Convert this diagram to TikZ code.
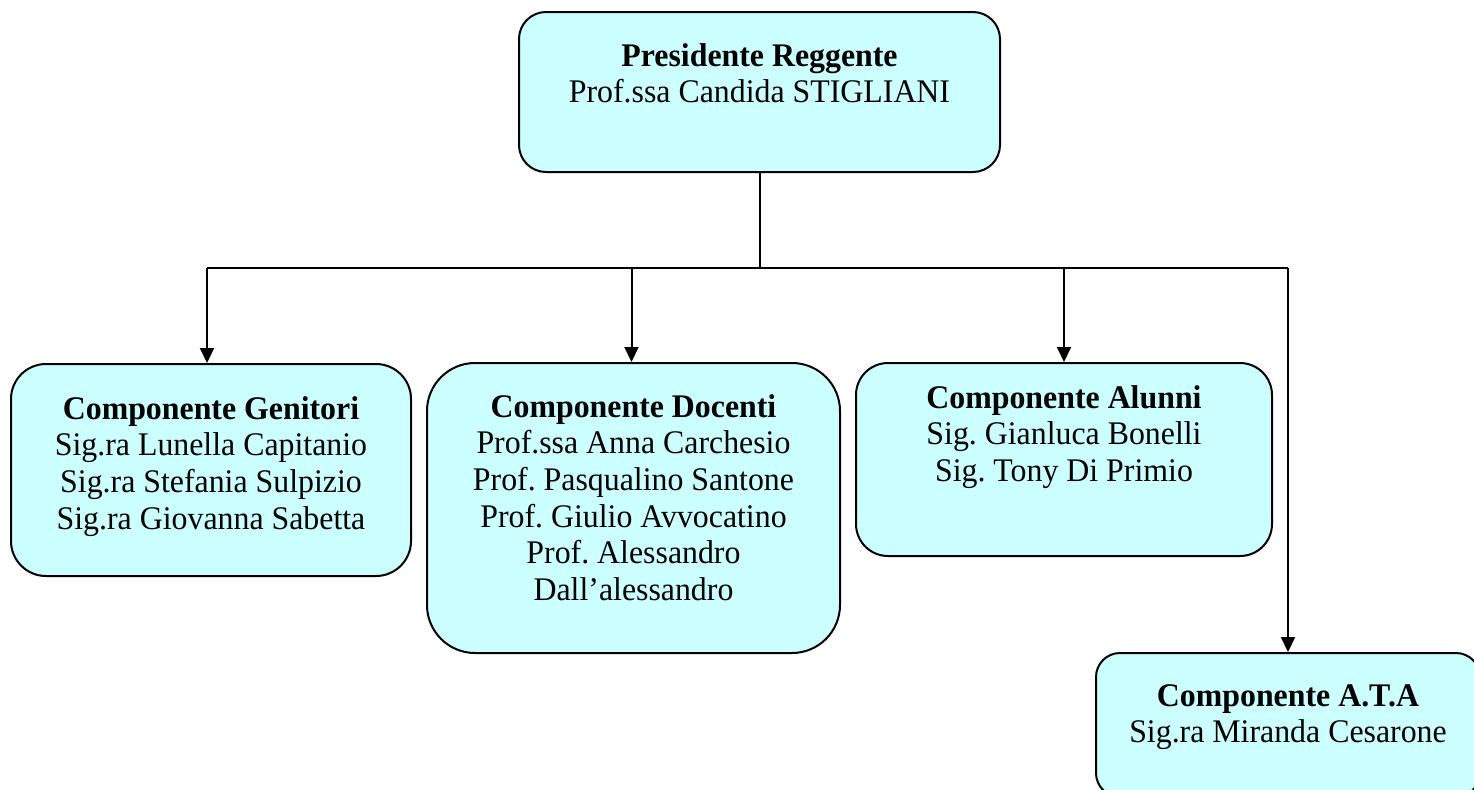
\documentclass[tikz,border=0pt]{standalone}
\usepackage{fontspec}
\setmainfont[FakeStretch=0.965]{Liberation Serif}
\usetikzlibrary{positioning,arrows.meta}
\definecolor{boxcyan}{HTML}{CCFFFF}
\frenchspacing

\begin{document}
\begin{tikzpicture}
  [
    x=0.5pt,y=-0.5pt,
    inner sep=0pt,
    member/.style={rectangle,rounded corners=#1,draw=black,line width=1pt,fill=boxcyan},
    member/.default=17pt,
    names/.style={align=center,font=\fontsize{16.5}{18.3}\selectfont},
    link/.style={line width=1pt},
    arrow/.style={link,-{Triangle[length=7.5pt,width=7pt]}},
  ]
  \useasboundingbox (0,0) rectangle (1474,789);
  % boxes
  \node[member=13.5pt,minimum width=240.5pt,minimum height=80pt]  (pres) at (759.5,92)  {};
  \node[member=17.5pt,minimum width=200pt,minimum height=106pt]   (gen)  at (211,470)   {};
  \node[member=24pt,minimum width=206.5pt,minimum height=145pt]   (doc)  at (633.5,508) {};
  \node[member=16pt,minimum width=208pt,minimum height=96.5pt]    (alu)  at (1064,459.5){};
  \node[member=12pt,minimum width=192pt,minimum height=72pt]      (ata)  at (1288,725)  {};
  % texts
  \node[names,below=16pt of pres.north]  (pres text) {\textbf{Presidente Reggente}\\Prof.ssa Candida STIGLIANI};
  \node[names,below=16.5pt of gen.north] (gen text)  {\textbf{Componente Genitori}\\Sig.ra Lunella Capitanio\\Sig.ra Stefania Sulpizio\\Sig.ra Giovanna Sabetta};
  \node[names,below=16pt of doc.north]   (doc text)  {\textbf{Componente Docenti}\\Prof.ssa Anna Carchesio\\Prof. Pasqualino Santone\\Prof. Giulio Avvocatino\\Prof. Alessandro\\Dall’alessandro};
  \node[names,below=11.5pt of alu.north] (alu text)  {\textbf{Componente Alunni}\\Sig. Gianluca Bonelli\\Sig. Tony Di Primio};
  \node[names,below=16pt of ata.north]   (ata text)  {\textbf{Componente A.T.A}\\Sig.ra Miranda Cesarone};
  % connectors
  \coordinate (bus) at ([yshift=-47.5pt]pres.south);
  \draw[link] (pres.south) -- (bus);
  \draw[link] ([xshift=-2pt]gen.north |- bus) -- (ata.north |- bus);
  \draw[arrow] ([xshift=-2pt]gen.north |- bus) -- ([xshift=-2pt]gen.north);
  \draw[arrow] ([xshift=-1pt]doc.north |- bus) -- ([xshift=-1pt]doc.north);
  \foreach \n in {alu,ata}
    \draw[arrow] (\n.north |- bus) -- (\n.north);
\end{tikzpicture}
\end{document}
